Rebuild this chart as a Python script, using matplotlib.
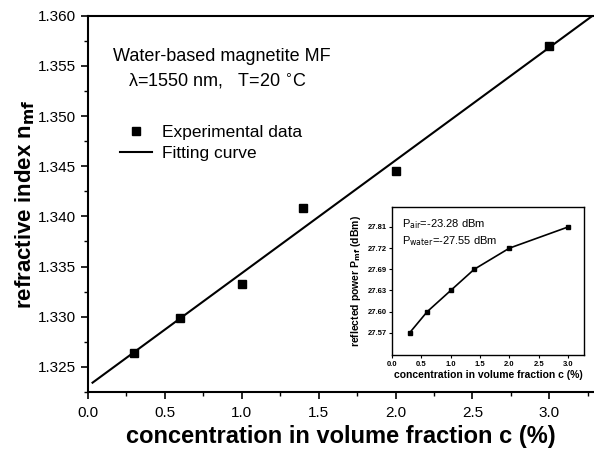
import matplotlib
matplotlib.use('Agg')
import matplotlib.pyplot as plt
import numpy as np

plt.rcParams['font.family'] = ['Liberation Sans', 'DejaVu Sans']

# Data
conc = [0.3, 0.6, 1.0, 1.4, 2.0, 3.0]
n_mf = [1.3264, 1.3299, 1.3333, 1.3408, 1.3445, 1.3570]

# inset: reflected power, printed labels are not evenly spaced values
inset_conc = [0.3, 0.6, 1.0, 1.4, 2.0, 3.0]
power_labels = ['27.57', '27.60', '27.63', '27.69', '27.72', '27.81']

# linear fit of the experimental data
slope, intercept = np.polyfit(conc, n_mf, 1)
fit_x = np.array([0.03, 3.4])
fit_y = slope * fit_x + intercept

fig = plt.figure(figsize=(5.94, 4.53), dpi=100)
ax = fig.add_axes([0.148, 0.135, 0.852, 0.830])

ax.plot(conc, n_mf, 's', color='black', markersize=6, label='Experimental data')
ax.plot(fit_x, fit_y, '-', color='black', linewidth=1.5, label='Fitting curve')

ax.set_xlim(0, 3.29)
ax.set_ylim(1.3225, 1.360)
ax.set_xticks(np.arange(0, 3.01, 0.5))
ax.set_xticks(np.arange(0, 3.3, 0.25), minor=True)
ax.set_yticks(np.arange(1.325, 1.3601, 0.005))
ax.set_yticks(np.arange(1.3225, 1.3601, 0.0025), minor=True)
ax.set_xticklabels(['0.0', '0.5', '1.0', '1.5', '2.0', '2.5', '3.0'])
ax.set_yticklabels(['%.3f' % v for v in np.arange(1.325, 1.3601, 0.005)])
ax.tick_params(which='major', direction='out', length=5, width=1.2, labelsize=11)
ax.tick_params(axis='x', which='major', pad=5)
ax.tick_params(which='minor', direction='out', length=3, width=1)
ax.spines['right'].set_visible(False)
for s in ['left', 'bottom', 'top']:
    ax.spines[s].set_linewidth(1.5)

ax.set_xlabel('concentration in volume fraction c (%)', fontsize=17, fontweight='bold', labelpad=4)
ax.set_ylabel(r'refractive index n$_{\mathbf{mf}}$', fontsize=16, fontweight='bold', labelpad=1)

ax.text(0.264, 0.892, 'Water-based magnetite MF', transform=ax.transAxes,
        fontsize=13, ha='center', va='center')
ax.text(0.256, 0.826, '\u03bb=1550 nm,   T=20 $^{\\circ}$C', transform=ax.transAxes,
        fontsize=13, ha='center', va='center')

ax.legend(loc='upper left', bbox_to_anchor=(0.063, 0.71), frameon=False,
          fontsize=12.5, handlelength=1.85, handletextpad=0.6, borderpad=0,
          labelspacing=0.36, borderaxespad=0)

# inset
axi = fig.add_axes([0.660, 0.2163, 0.323, 0.327])
ypos = np.arange(len(power_labels))
axi.plot(inset_conc, ypos, '-s', color='black', markersize=2.5, linewidth=1.2)
axi.set_xlim(0, 3.27)
axi.set_ylim(-1.05, 5.95)
axi.set_xticks(np.arange(0, 3.01, 0.5))
axi.set_xticklabels(['0.0', '0.5', '1.0', '1.5', '2.0', '2.5', '3.0'], fontweight='bold')
axi.set_yticks(ypos)
axi.set_yticklabels(power_labels, fontweight='bold')
axi.tick_params(direction='out', length=2, width=0.8, labelsize=5.5, pad=2)
for s in axi.spines.values():
    s.set_linewidth(1.0)
axi.set_xlabel('concentration in volume fraction c (%)', fontsize=7.5, fontweight='bold', labelpad=2)
axi.set_ylabel(r'reflected power P$_{\mathbf{mf}}$ (dBm)', fontsize=7.5, fontweight='bold', labelpad=3)
axi.text(0.05, 0.885, r'P$_{\mathrm{air}}$=-23.28 dBm', transform=axi.transAxes, fontsize=8, va='center')
axi.text(0.05, 0.77, r'P$_{\mathrm{water}}$=-27.55 dBm', transform=axi.transAxes, fontsize=8, va='center')

fig.savefig('out.png', dpi=100)
